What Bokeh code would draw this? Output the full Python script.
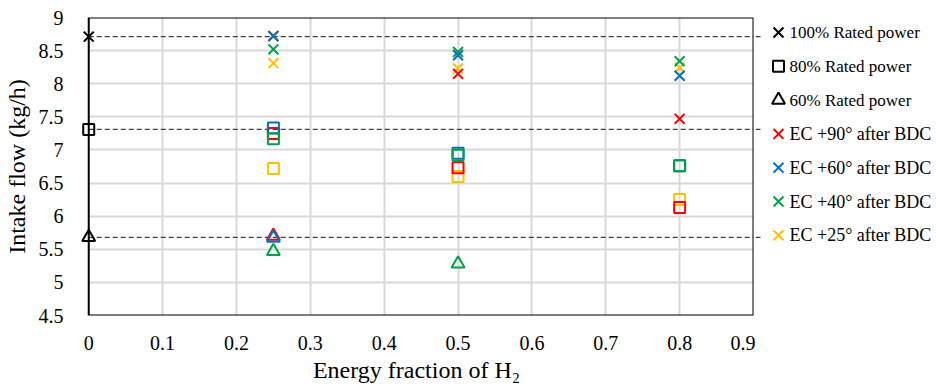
from bokeh.plotting import figure
from bokeh.models import BoxAnnotation, Range1d, FixedTicker, ColumnDataSource
from bokeh.layouts import row
from bokeh.core.properties import value
from bokeh.embed import file_html
from bokeh.resources import INLINE

# ---------------- data ----------------
x_ticks = [0, 0.1, 0.2, 0.3, 0.4, 0.5, 0.6, 0.7, 0.8, 0.9]
x_tick_labels = ["0", "0.1", "0.2", "0.3", "0.4", "0.5", "0.6", "0.7", "0.8", "0.9"]
y_ticks = [4.5, 5, 5.5, 6, 6.5, 7, 7.5, 8, 8.5, 9]
y_tick_labels = ["4.5", "5", "5.5", "6", "6.5", "7", "7.5", "8", "8.5", "9"]

# reference (pure diesel, energy fraction 0)
ref_x = [0]
ref_flow_100 = [8.71]
ref_flow_80 = [7.31]
ref_flow_60 = [5.68]
ref_flows = [8.71, 7.31, 5.68]

x_ec = [0.25, 0.5, 0.8]
# 100% rated power (x markers)
flow100_ec90 = [8.72, 8.15, 7.47]
flow100_ec60 = [8.72, 8.43, 8.12]
flow100_ec40 = [8.52, 8.48, 8.34]
flow100_ec25 = [8.31, 8.23, 8.24]
# 80% rated power (squares)
flow80_ec90 = [7.25, 6.73, 6.13]
flow80_ec60 = [7.33, 6.95, 6.76]
flow80_ec40 = [7.17, 6.92, 6.76]
flow80_ec25 = [6.72, 6.60, 6.25]
# 60% rated power (triangles)
x60_ec90 = [0.25]
flow60_ec90 = [5.70]
x60_ec60 = [0.25]
flow60_ec60 = [5.67]
x60_ec40 = [0.25, 0.5]
flow60_ec40 = [5.47, 5.28]

legend_labels = ["100% Rated power", "80% Rated power", "60% Rated power",
                 "EC +90° after BDC", "EC +60° after BDC", "EC +40° after BDC",
                 "EC +25° after BDC"]

RED, BLUE, GREEN, YELLOW = "#FF0000", "#0070C0", "#00A04A", "#FFC000"
FONT = "Liberation Serif"

# layout constants (pixels)
H = 387
MAIN_W = 755
TOP, BOTTOM = 17, 72
FRAME_H = H - TOP - BOTTOM
Y0, Y1 = 4.5, 9

# ---------------- main figure ----------------
p = figure(width=MAIN_W, height=H, output_backend="svg", toolbar_location=None,
           x_range=Range1d(-0.0125, 0.9), y_range=Range1d(Y0, Y1),
           min_border_left=77, min_border_right=2, min_border_top=TOP,
           min_border_bottom=BOTTOM)
p.outline_line_color = None

p.xgrid.ticker = FixedTicker(ticks=x_ticks)
p.ygrid.ticker = FixedTicker(ticks=y_ticks)
for g in (p.xgrid, p.ygrid):
    g.grid_line_color = "#d9d9d9"
    g.grid_line_width = 2

# white strip left of x=0 so that grid lines start at the axis
p.add_layout(BoxAnnotation(right=0, fill_color="white", fill_alpha=1,
                           line_color=None, level="underlay"))

p.xaxis.ticker = FixedTicker(ticks=x_ticks)
p.yaxis.ticker = FixedTicker(ticks=y_ticks)
p.xaxis.major_label_overrides = {t: s for t, s in zip(x_ticks, x_tick_labels)}
p.yaxis.major_label_overrides = {t: s for t, s in zip(y_ticks, y_tick_labels)}
p.axis.axis_line_color = None
p.axis.major_tick_line_color = None
p.axis.minor_tick_line_color = None
p.axis.major_label_text_font = FONT
p.axis.major_label_text_color = "black"
p.axis.major_label_text_font_size = "20px"
p.axis.axis_label_text_font = FONT
p.axis.axis_label_text_font_style = "normal"
p.axis.axis_label_text_color = "black"
p.axis.axis_label_text_font_size = "24px"
p.xaxis.major_label_standoff = 14
p.yaxis.major_label_standoff = 10
p.xaxis.axis_label = "Energy fraction of H₂"
p.yaxis.axis_label = "Intake flow (kg/h)"
p.xaxis.axis_label_standoff = 4
p.yaxis.axis_label_standoff = 6

# dashed reference lines
p.ray(x=ref_x * 3, y=ref_flows, length=0, angle=0, line_color="#404040",
      line_width=1.3, line_dash="5 3")

# plot frame
p.add_layout(BoxAnnotation(left=0, right=0.9, bottom=Y0, top=Y1, fill_alpha=0,
                           line_color="black", line_width=2, line_alpha=1))

# reference markers
p.scatter(ref_x, ref_flow_100, marker="x", size=14, line_width=2, line_color="black")
p.scatter(ref_x, ref_flow_80, marker="square", size=11, line_width=2,
          line_color="black", fill_color=None)
p.scatter(ref_x, ref_flow_60, marker="triangle", size=13, line_width=2,
          line_color="black", fill_color=None)

# 60% triangles
p.scatter(x60_ec40, flow60_ec40, marker="triangle", size=13, line_width=2, line_color=GREEN, fill_color=None)
p.scatter(x60_ec90, flow60_ec90, marker="triangle", size=13, line_width=2, line_color=RED, fill_color=None)
p.scatter(x60_ec60, flow60_ec60, marker="triangle", size=13, line_width=2, line_color=BLUE, fill_color=None)

# 80% squares
for ys, c in [(flow80_ec25, YELLOW), (flow80_ec90, RED), (flow80_ec60, BLUE), (flow80_ec40, GREEN)]:
    p.scatter(x_ec, ys, marker="square", size=11, line_width=2, line_color=c, fill_color=None)

# 100% crosses
for ys, c in [(flow100_ec25, YELLOW), (flow100_ec40, GREEN),
              (flow100_ec90, RED), (flow100_ec60, BLUE)]:
    p.scatter(x_ec, ys, marker="x", size=14, line_width=2, line_color=c)

# ---------------- legend panel (own figure, canvas pixel coordinates) ----------------
# the row aligns this figure's frame with the main frame (canvas y TOP..H-BOTTOM)
LEG_W = 936 - MAIN_W
leg = figure(width=LEG_W, height=H, output_backend="svg", toolbar_location=None,
             x_range=Range1d(MAIN_W, 936), y_range=Range1d(H - BOTTOM, TOP),
             min_border_left=0, min_border_right=0, min_border_top=TOP,
             min_border_bottom=BOTTOM, x_axis_location=None, y_axis_location=None)
leg.outline_line_color = None
leg.xgrid.visible = False
leg.ygrid.visible = False

# continuation of dashed reference lines past the frame
ref_py = [TOP + (Y1 - v) * FRAME_H / (Y1 - Y0) for v in ref_flows]
leg.segment(x0=[MAIN_W] * 3, y0=ref_py, x1=[MAIN_W + 7] * 3, y1=ref_py,
            line_color="#404040", line_width=1.3, line_dash="5 3")

row_y = [32 + i * 33.8 for i in range(7)]
leg_markers = ["x", "square", "triangle", "x", "x", "x", "x"]
leg_colors = ["black", "black", "black", RED, BLUE, GREEN, YELLOW]
leg_sizes = [14, 11, 13, 14, 14, 14, 14]
src = ColumnDataSource(dict(x=[778] * 7, y=row_y, marker=leg_markers,
                            color=leg_colors, size=leg_sizes,
                            tx=[789] * 7, label=legend_labels,
                            fs=["17px"] * 3 + ["18px"] * 4))
leg.scatter(x="x", y="y", marker="marker", size="size", line_color="color",
            fill_color=None, line_width=2, source=src)
leg.text(x="tx", y="y", text="label", text_font=value(FONT), text_font_size="fs",
         text_baseline="middle", text_align="left", text_color="black", source=src)

layout = row(p, leg, spacing=0)
open("out.html", "w").write(file_html(layout, INLINE))
